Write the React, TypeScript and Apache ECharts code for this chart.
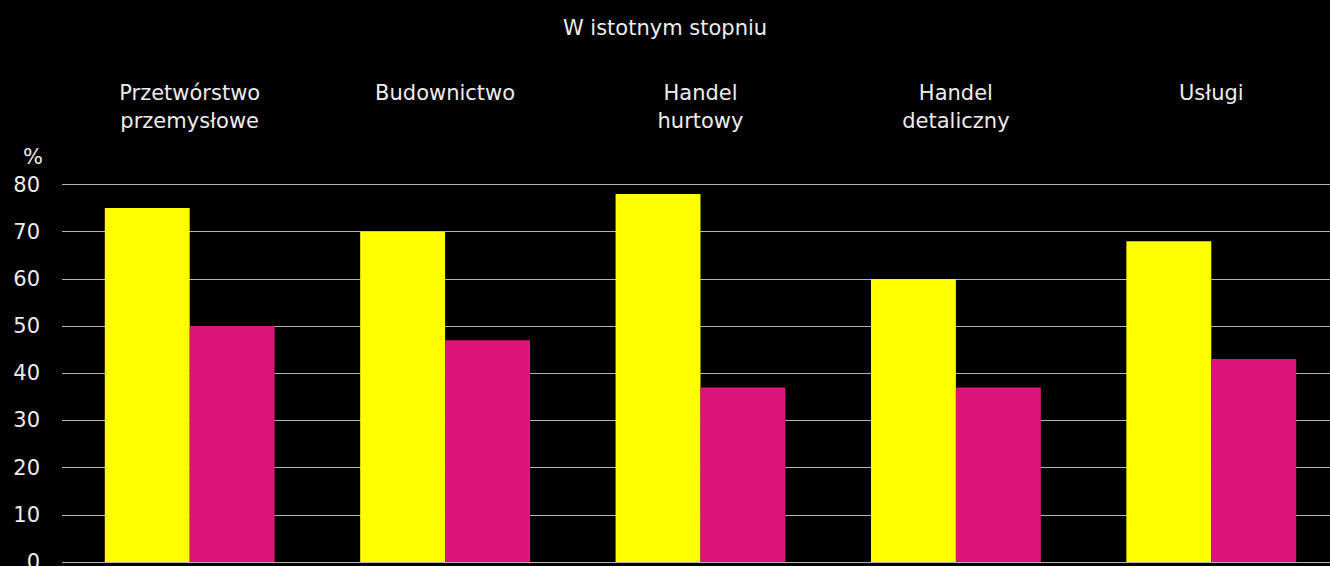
import React, { useEffect, useRef } from "react";
import * as echarts from "echarts";

const categories = [
  "Przetwórstwo\nprzemysłowe",
  "Budownictwo",
  "Handel\nhurtowy",
  "Handel\ndetaliczny",
  "Usługi",
];
const seriesA = [75, 70, 78, 60, 68];
const seriesB = [50, 47, 37, 37, 43];
const yTicks = { min: 0, max: 80, interval: 10 };
const titleText = "W istotnym stopniu";

const FONT = "'DejaVu Sans', sans-serif";
const TEXT = "#ececec";

export default function App() {
  const ref = useRef<HTMLDivElement>(null);
  useEffect(() => {
    if (!ref.current) return;
    const chart = echarts.init(ref.current, null, { renderer: "svg" });
    chart.setOption({
      animation: false,
      backgroundColor: "#000",
      textStyle: { fontFamily: FONT },
      title: {
        text: titleText,
        left: "center",
        top: 12,
        textStyle: { color: TEXT, fontSize: 21, fontWeight: "normal", fontFamily: FONT },
      },
      grid: {
        left: 62,
        top: 184.5,
        width: 1277,
        height: 377.5,
        containLabel: false,
        outerBoundsMode: "none",
      },
      xAxis: {
        type: "category",
        data: categories,
        position: "top",
        axisLine: { show: false },
        axisTick: { show: false },
        splitLine: { show: false },
        axisLabel: {
          interval: 0,
          color: TEXT,
          fontSize: 21,
          lineHeight: 28,
          verticalAlign: "top",
          margin: 106,
          fontFamily: FONT,
        },
      },
      yAxis: {
        type: "value",
        min: yTicks.min,
        max: yTicks.max,
        interval: yTicks.interval,
        name: "%",
        nameLocation: "end",
        nameGap: 17,
        nameTextStyle: { color: TEXT, fontSize: 21, align: "right", padding: [0, 19, 0, 0], fontFamily: FONT },
        axisLine: { show: false },
        axisTick: { show: false },
        axisLabel: { color: TEXT, fontSize: 21, margin: 22, fontFamily: FONT },
        splitLine: { lineStyle: { color: "#b4b4b4", width: 1 } },
      },
      series: [
        {
          type: "bar",
          data: seriesA,
          itemStyle: { color: "#FFFF00" },
          barGap: "0%",
          barCategoryGap: "33.5%",
        },
        {
          type: "bar",
          data: seriesB,
          itemStyle: { color: "#DD1479" },
          barGap: "0%",
          barCategoryGap: "33.5%",
        },
      ],
    });
    return () => chart.dispose();
  }, []);
  return (
    <div
      ref={ref}
      style={{ position: "absolute", left: 0, top: 0, width: 1330, height: 566, overflow: "hidden" }}
    />
  );
}
